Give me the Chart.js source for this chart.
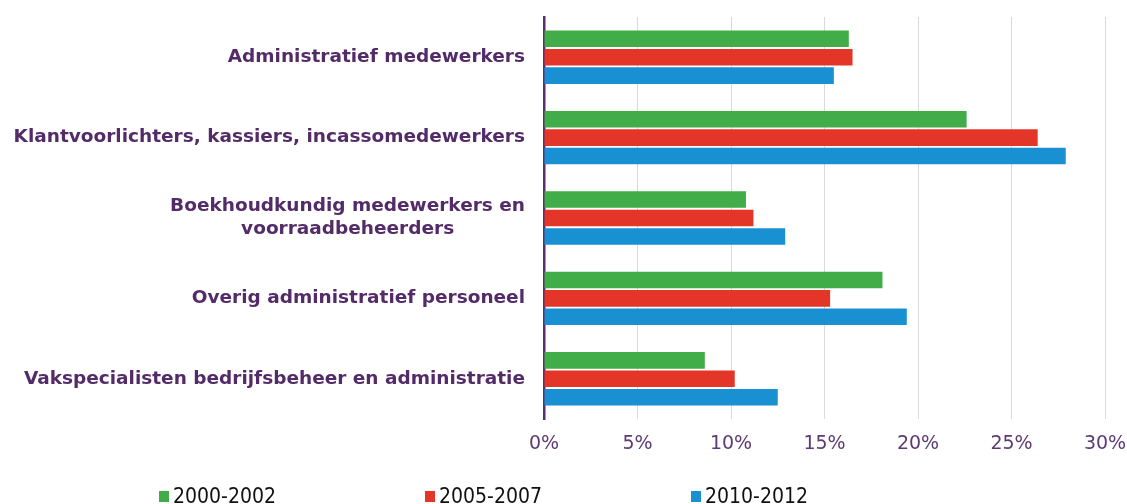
<!DOCTYPE html>
<html>
<head>
<meta charset="utf-8">
<script src="https://cdn.jsdelivr.net/npm/chart.js@4"></script>
<style>
  html, body { margin: 0; padding: 0; background: #fff; }
  #wrap { position: relative; width: 1127px; height: 504px; overflow: hidden; }
  #legend { position: absolute; left: 159px; top: 484px; display: flex;
            font: 21px "DejaVu Sans Condensed", "Liberation Sans", sans-serif; color: #111; }
  .item { width: 266px; display: flex; align-items: flex-start; }
  .box { width: 10px; height: 11px; margin: 7px 4px 0 0; }
</style>
</head>
<body>
<div id="wrap">
  <canvas id="chart" width="1127" height="504"></canvas>
  <div id="legend"></div>
</div>
<script>
const categories = [
    'Administratief medewerkers',
    'Klantvoorlichters, kassiers, incassomedewerkers',
    ['Boekhoudkundig medewerkers en', 'voorraadbeheerders'],
    'Overig administratief personeel',
    'Vakspecialisten bedrijfsbeheer en administratie'
];
const seriesNames = ['2000-2002', '2005-2007', '2010-2012'];
const values2000 = [16.3, 22.6, 10.8, 18.1, 8.6];
const values2005 = [16.5, 26.4, 11.2, 15.3, 10.2];
const values2010 = [15.5, 27.9, 12.9, 19.4, 12.5];
const colors = ['#41ad49', '#e33629', '#1890d2'];

const purple = '#532b68';
const labelFont = { family: 'DejaVu Sans', size: 18.5, weight: 'bold', lineHeight: 1.25 };

// center the lines of a wrapped label by padding the shorter ones
const measure = document.createElement('canvas').getContext('2d');
measure.font = 'bold 18.5px "DejaVu Sans"';
function centerLines(label) {
    if (!Array.isArray(label)) return label;
    const widths = label.map(l => measure.measureText(l).width);
    const max = Math.max(...widths);
    const sp = measure.measureText(' ').width;
    return label.map((l, i) => l + ' '.repeat(Math.round((max - widths[i]) / 2 / sp)));
}

const allValues = [values2000, values2005, values2010];
const datasets = seriesNames.map((name, i) => ({
    label: name,
    data: allValues[i],
    backgroundColor: colors[i],
    barPercentage: 0.9,
    categoryPercentage: 0.6875
}));

new Chart(document.getElementById('chart'), {
    type: 'bar',
    data: { labels: categories, datasets: datasets },
    options: {
        indexAxis: 'y',
        responsive: false,
        animation: false,
        layout: { padding: { top: 17, right: 22, bottom: 0, left: 0 } },
        plugins: { legend: { display: false }, tooltip: { enabled: false } },
        scales: {
            x: {
                min: 0, max: 30,
                ticks: { stepSize: 5, callback: v => v + '%', color: '#5e3a74', padding: 14,
                         font: { family: 'DejaVu Sans', size: 19 } },
                grid: { color: '#d9d9d9', drawTicks: false },
                border: { display: false },
                afterFit: s => { s.height = 85; s.paddingLeft = 0; s.paddingRight = 0; }
            },
            y: {
                ticks: {
                    color: purple, padding: 19, font: labelFont,
                    callback: function(v) { return centerLines(this.getLabelForValue(v)); }
                },
                grid: { display: false, drawTicks: false },
                border: { color: '#5b2f6f', width: 2.5 },
                afterFit: s => { s.width = 544; s.paddingTop = 0; s.paddingBottom = 0; }
            }
        }
    }
});

const legend = document.getElementById('legend');
seriesNames.forEach((name, i) => {
    const item = document.createElement('div');
    item.className = 'item';
    item.innerHTML = `<span class="box" style="background:${colors[i]}"></span><span>${name}</span>`;
    legend.appendChild(item);
});
</script>
</body>
</html>
